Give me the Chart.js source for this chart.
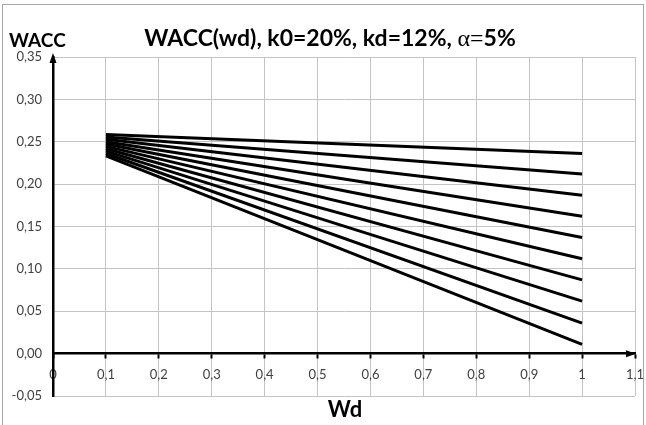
<!DOCTYPE html>
<html>
<head>
<meta charset="utf-8">
<script src="https://cdn.jsdelivr.net/npm/chart.js@4"></script>
<style>
  html, body { margin: 0; padding: 0; background: #fff; }
  #wrap { width: 646px; height: 425px; position: relative; }
</style>
</head>
<body>
<div id="wrap"><canvas id="c" width="646" height="425"></canvas></div>
<script>
// ---- data ----
const wdValues = [0.1, 1.0];
const waccAtStart = [0.2585, 0.2557, 0.2529, 0.2501, 0.2473, 0.2445, 0.2417, 0.2389, 0.2361, 0.2333];
const waccAtEnd   = [0.236, 0.212, 0.187, 0.162, 0.137, 0.112, 0.087, 0.062, 0.036, 0.011];
const xTickMin = 0, xTickMax = 1.1, xTickStep = 0.1;
const yTickMin = -0.05, yTickMax = 0.35, yTickStep = 0.05;
const titleMain = 'WACC(wd), k0=20%, kd=12%, ';
const titleAlpha = 'α=';
const titleTail = '5%';
const yAxisLabel = 'WACC';
const xAxisLabel = 'Wd';

const FONT = 'Lato, "Liberation Sans", sans-serif';

const datasets = waccAtStart.map((s, i) => ({
  data: [{x: wdValues[0], y: s}, {x: wdValues[1], y: waccAtEnd[i]}],
  borderColor: '#000',
  borderWidth: 3,
  pointRadius: 0,
  fill: false,
  tension: 0
}));

const comma = (v, d) => v.toFixed(d).replace('.', ',');

const decor = {
  id: 'decor',
  beforeDraw(chart) {
    const ctx = chart.ctx;
    ctx.save();
    ctx.fillStyle = '#fff';
    ctx.fillRect(0, 0, chart.width, chart.height);
    ctx.strokeStyle = '#a6a6a6';
    ctx.lineWidth = 1;
    ctx.strokeRect(2.5, 4.5, 641, 430);
    ctx.restore();
  },
  afterDraw(chart) {
    const ctx = chart.ctx;
    const xs = chart.scales.x, ys = chart.scales.y;
    const x0 = xs.getPixelForValue(0), y0 = ys.getPixelForValue(0);
    const yTop = ys.getPixelForValue(yTickMax), xRight = xs.getPixelForValue(xTickMax);
    ctx.save();
    ctx.fillStyle = '#000';
    // y axis arrow
    ctx.beginPath();
    ctx.moveTo(x0, yTop - 4);
    ctx.lineTo(x0 - 3.5, yTop + 6);
    ctx.lineTo(x0 + 3.5, yTop + 6);
    ctx.closePath();
    ctx.fill();
    // x axis arrow
    ctx.beginPath();
    ctx.moveTo(xRight + 1, y0);
    ctx.lineTo(xRight - 9, y0 - 3.5);
    ctx.lineTo(xRight - 9, y0 + 3.5);
    ctx.closePath();
    ctx.fill();

    // title
    ctx.textBaseline = 'middle';
    ctx.textAlign = 'left';
    const fBold = 'bold 23px ' + FONT;
    const fSerif = '24px "Liberation Serif", serif';
    ctx.font = fBold; const w1 = ctx.measureText(titleMain).width;
    ctx.font = fSerif; const w2 = ctx.measureText(titleAlpha).width;
    ctx.font = fBold; const w3 = ctx.measureText(titleTail).width;
    let tx = 330 - (w1 + w2 + w3) / 2;
    const ty = 39;
    ctx.font = fBold; ctx.fillText(titleMain, tx, ty); tx += w1;
    ctx.font = fSerif; ctx.fillText(titleAlpha, tx, ty + 1); tx += w2;
    ctx.font = fBold; ctx.fillText(titleTail, tx, ty);

    // axis labels
    ctx.font = 'bold 19px ' + FONT;
    ctx.fillText(yAxisLabel, 9, 41);
    ctx.font = 'bold 22px ' + FONT;
    ctx.textAlign = 'center';
    ctx.fillText(xAxisLabel, 345, 410);
    ctx.restore();
  }
};

new Chart(document.getElementById('c'), {
  type: 'line',
  data: { datasets },
  options: {
    responsive: false,
    animation: false,
    devicePixelRatio: 1,
    layout: { padding: { left: 0, right: 11, top: 57, bottom: 29 } },
    plugins: { legend: { display: false }, title: { display: false }, tooltip: { enabled: false } },
    scales: {
      x: {
        type: 'linear',
        position: { y: 0 },
        min: xTickMin, max: xTickMax,
        afterFit: s => { s.paddingLeft = 0; s.paddingRight = 0; },
        ticks: {
          stepSize: xTickStep,
          padding: 9,
          color: '#404040',
          font: { family: FONT, size: 13 },
          maxRotation: 0,
          autoSkip: false,
          callback: v => {
            const r = Math.round(v * 10) / 10;
            return Number.isInteger(r) ? String(r) : comma(r, 1);
          }
        },
        grid: { color: '#c4c4c4', lineWidth: 1, drawTicks: true, tickLength: 4, tickColor: '#000', tickWidth: 2 },
        border: { display: true, color: '#000', width: 2.5 }
      },
      y: {
        type: 'linear',
        position: 'left',
        min: yTickMin, max: yTickMax,
        afterFit: s => { s.width = 53; },
        ticks: {
          stepSize: yTickStep,
          padding: 11,
          color: '#404040',
          font: { family: FONT, size: 13 },
          callback: v => comma(Math.round(v * 100) / 100, 2)
        },
        grid: { color: '#c4c4c4', lineWidth: 1, drawTicks: false },
        border: { display: true, color: '#000', width: 2.5 }
      }
    }
  },
  plugins: [decor]
});
</script>
</body>
</html>
